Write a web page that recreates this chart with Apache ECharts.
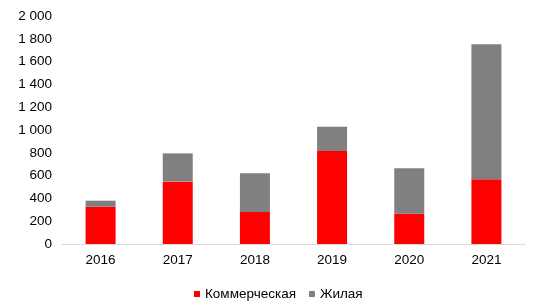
<!DOCTYPE html>
<html>
<head>
<meta charset="utf-8">
<script src="https://cdn.jsdelivr.net/npm/echarts@6/dist/echarts.min.js"></script>
<style>html,body{margin:0;padding:0;background:#fff}#c{width:534px;height:306px}</style>
</head>
<body>
<div id="c"></div>
<script>
const categories = ['2016', '2017', '2018', '2019', '2020', '2021'];
const commercial = [327, 547, 281, 816, 266, 567];
const residential = [53, 248, 339, 213, 398, 1185];
const yTicks = { min: 0, max: 2000, interval: 200 };
const seriesNames = ['Коммерческая', 'Жилая'];

const fmt = v => String(v).replace(/\B(?=(\d{3})+(?!\d))/g, ' ');
const font = 'Liberation Sans, Arial, sans-serif';
const chart = echarts.init(document.getElementById('c'), null, { renderer: 'canvas' });
chart.setOption({
  animation: false,
  grid: { left: 62, right: 9, top: 16, bottom: 62, containLabel: false },
  legend: {
    data: seriesNames,
    left: 189, top: 282,
    itemWidth: 6, itemHeight: 6, itemGap: 13,
    icon: 'rect',
    textStyle: { fontFamily: font, fontSize: 13.5, color: '#000' }
  },
  xAxis: {
    type: 'category', data: categories,
    axisLine: { lineStyle: { color: '#d9d9d9', width: 1 } },
    axisTick: { show: false },
    axisLabel: { fontFamily: font, fontSize: 13.5, color: '#000', margin: 9 }
  },
  yAxis: {
    type: 'value', min: yTicks.min, max: yTicks.max, interval: yTicks.interval,
    axisLine: { show: false }, axisTick: { show: false }, splitLine: { show: false },
    axisLabel: { fontFamily: font, fontSize: 13.5, color: '#000', margin: 10, formatter: fmt }
  },
  series: [
    { name: seriesNames[0], type: 'bar', stack: 's', data: commercial, barWidth: 30, itemStyle: { color: '#ff0000' } },
    { name: seriesNames[1], type: 'bar', stack: 's', data: residential, barWidth: 30, itemStyle: { color: '#808080' } }
  ]
});
</script>
</body>
</html>
